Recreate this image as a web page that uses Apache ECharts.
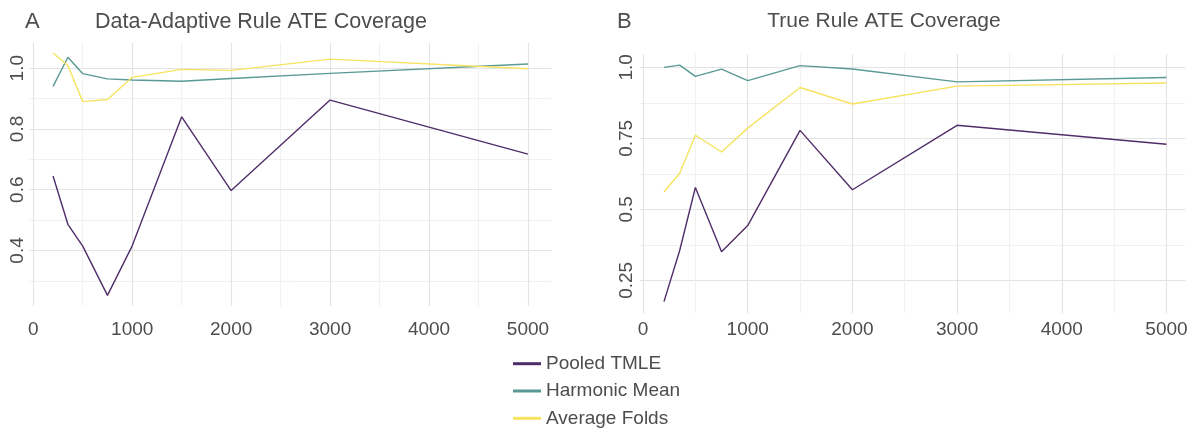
<!DOCTYPE html>
<html><head><meta charset="utf-8">
<script src="https://cdn.jsdelivr.net/npm/echarts@6/dist/echarts.min.js"></script>
<style>html,body{margin:0;padding:0;background:#fff}#c{width:1193px;height:430px}</style>
</head><body><div id="c"></div>
<script>
// ---- data ----
const sampleSizes = [200, 350, 500, 750, 1000, 1500, 2000, 3000, 5000];
const seriesNames = ['Pooled TMLE', 'Harmonic Mean', 'Average Folds'];
const panelTitles = ['Data-Adaptive Rule ATE Coverage', 'True Rule ATE Coverage'];
const panelTags = ['A', 'B'];
const adaptivePooled   = [0.645, 0.486, 0.414, 0.252, 0.415, 0.840, 0.597, 0.895, 0.717];
const adaptiveHarmonic = [0.940, 1.036, 0.982, 0.965, 0.961, 0.957, 0.966, 0.983, 1.014];
const adaptiveAverage  = [1.050, 1.009, 0.890, 0.897, 0.970, 0.996, 0.993, 1.030, 0.998];
const trueRulePooled   = [0.175, 0.355, 0.577, 0.351, 0.443, 0.778, 0.569, 0.796, 0.729];
const trueRuleHarmonic = [1.000, 1.008, 0.968, 0.994, 0.953, 1.006, 0.994, 0.949, 0.964];
const trueRuleAverage  = [0.561, 0.627, 0.761, 0.702, 0.786, 0.929, 0.871, 0.934, 0.945];
const yTickLabelsB = {'0.25': '0.25', '0.5': '0.5', '0.75': '0.75', '1': '1.0'};

// ---- style ----
const colors = ['#4f2d69', '#5a9a94', '#f6e35f'];
const txt = '#4d4d4d';
const font = "'Liberation Sans', Arial, Helvetica, sans-serif";
const majorLine = {color: '#e4e4e4', width: 1.2};
const minorLine = {color: '#ededed', width: 0.8};

function pairs(vals) { return sampleSizes.map((x, i) => [x, vals[i]]); }

const grids = [
  {left: 29.3, top: 42.7, width: 522.4, height: 263.3},
  {left: 640, top: 54, width: 545.3, height: 259.3}
];
const xRange = [[-40, 5240], [-29, 5180]];
const yRange = [[0.217, 1.084], [0.134, 1.047]];
const yStep = [0.2, 0.25];
const xLabelMargin = [14, 6.5];
const yLabelMargin = [2, 4];

const xAxes = [], yAxes = [];
for (let g = 0; g < 2; g++) {
  // minor grid axes
  xAxes.push({type: 'value', gridIndex: g, min: xRange[g][0], max: xRange[g][1],
    minInterval: 500, maxInterval: 500, axisLine: {show: false}, axisTick: {show: false},
    axisLabel: {show: false},
    splitLine: {show: true, showMinLine: false, showMaxLine: false, lineStyle: minorLine}});
  yAxes.push({type: 'value', gridIndex: g, min: yRange[g][0], max: yRange[g][1],
    minInterval: yStep[g] / 2, maxInterval: yStep[g] / 2, axisLine: {show: false}, axisTick: {show: false},
    axisLabel: {show: false},
    splitLine: {show: true, showMinLine: false, showMaxLine: false, lineStyle: minorLine}});
  // major axes
  xAxes.push({type: 'value', gridIndex: g, position: 'bottom', min: xRange[g][0], max: xRange[g][1],
    minInterval: 1000, maxInterval: 1000, axisLine: {show: false}, axisTick: {show: false},
    axisLabel: {showMinLabel: false, showMaxLabel: false, margin: xLabelMargin[g], fontSize: 19,
      color: txt, fontFamily: font, formatter: v => String(Math.round(v))},
    splitLine: {show: true, showMinLine: false, showMaxLine: false, lineStyle: majorLine}});
  yAxes.push({type: 'value', gridIndex: g, position: 'left', min: yRange[g][0], max: yRange[g][1],
    minInterval: yStep[g], maxInterval: yStep[g], axisLine: {show: false}, axisTick: {show: false},
    axisLabel: {showMinLabel: false, showMaxLabel: false, margin: yLabelMargin[g], fontSize: 19,
      rotate: 90, color: txt, fontFamily: font,
      formatter: g === 0 ? (v => v.toFixed(1)) : (v => yTickLabelsB[String(+v.toFixed(2))] || String(v))},
    splitLine: {show: true, showMinLine: false, showMaxLine: false, lineStyle: majorLine}});
}

const panelData = [
  [adaptivePooled, adaptiveHarmonic, adaptiveAverage],
  [trueRulePooled, trueRuleHarmonic, trueRuleAverage]
];
const series = [];
for (let g = 0; g < 2; g++) {
  panelData[g].forEach((vals, k) => {
    series.push({type: 'line', name: seriesNames[k], xAxisIndex: g * 2 + 1, yAxisIndex: g * 2 + 1,
      data: pairs(vals), showSymbol: false, symbol: 'none', z: 5 + k,
      lineStyle: {color: colors[k], width: 1.4}, itemStyle: {color: colors[k]}});
  });
}

const titleStyle = {fontSize: 22, fontWeight: 'normal', color: txt, fontFamily: font};
const option = {
  animation: false,
  backgroundColor: '#fff',
  title: [
    {text: panelTags[0], left: 20, top: 6, textStyle: titleStyle},
    {text: panelTitles[0], left: 256, textAlign: 'center', top: 6, textStyle: Object.assign({}, titleStyle, {fontSize: 21.5})},
    {text: panelTags[1], left: 612, top: 6, textStyle: titleStyle},
    {text: panelTitles[1], left: 879, textAlign: 'center', top: 6, textStyle: Object.assign({}, titleStyle, {fontSize: 21})}
  ],
  legend: {orient: 'vertical', left: 513, top: 353.7, padding: 0, itemWidth: 28, itemHeight: 3, itemGap: 7.3,
    icon: 'rect', data: seriesNames,
    textStyle: {fontSize: 19, lineHeight: 20, color: txt, fontFamily: font}},
  grid: grids,
  xAxis: xAxes,
  yAxis: yAxes,
  series: series
};
const chart = echarts.init(document.getElementById('c'), null, {renderer: 'canvas'});
chart.setOption(option);
</script></body></html>
